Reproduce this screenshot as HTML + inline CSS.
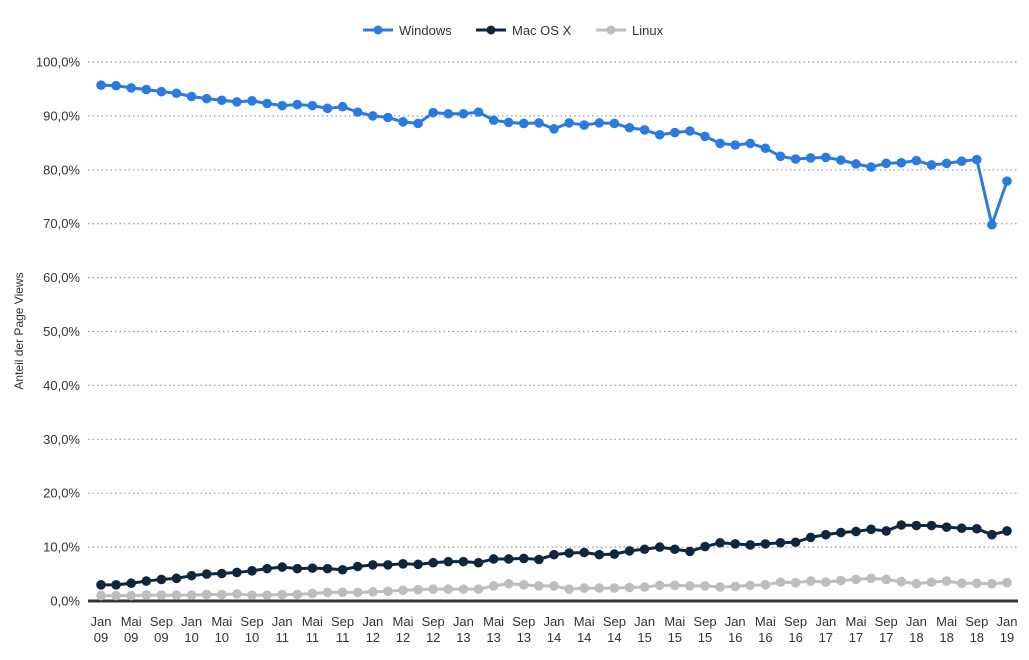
<!DOCTYPE html>
<html><head><meta charset="utf-8"><style>
body{margin:0;background:#fff;font-family:"Liberation Sans",Arial,sans-serif;}
svg text{font-family:"Liberation Sans",Arial,sans-serif;fill:#333;}
</style></head><body>
<svg id="chart" width="1029" height="655" xmlns="http://www.w3.org/2000/svg">
<g id="legend">
 <g><line x1="363" y1="30" x2="393" y2="30" stroke="#2b7ae0" stroke-width="3"/><circle cx="378" cy="30" r="4.5" fill="#2b7ae0"/><text x="399" y="35" font-size="13">Windows</text></g>
 <g><line x1="476" y1="30" x2="506" y2="30" stroke="#10263f" stroke-width="3"/><circle cx="491" cy="30" r="4.5" fill="#10263f"/><text x="512" y="35" font-size="13">Mac OS X</text></g>
 <g><line x1="596" y1="30" x2="626" y2="30" stroke="#bdbdbd" stroke-width="3"/><circle cx="611" cy="30" r="4.5" fill="#bdbdbd"/><text x="632" y="35" font-size="13">Linux</text></g>
</g>
<text transform="translate(23,331) rotate(-90)" text-anchor="middle" font-size="12">Anteil der Page Views</text>
<g id="grid"></g><g id="series"></g><g id="xlabels"></g>
</svg>
<script>
const windows=[95.7,95.6,95.2,94.9,94.5,94.2,93.6,93.2,92.9,92.6,92.8,92.3,91.9,92.1,91.9,91.4,91.7,90.7,90.0,89.7,88.9,88.6,90.6,90.4,90.4,90.7,89.2,88.8,88.6,88.7,87.6,88.7,88.3,88.7,88.6,87.8,87.4,86.5,86.9,87.2,86.2,84.9,84.6,84.9,84.0,82.5,82.0,82.2,82.3,81.8,81.1,80.5,81.2,81.3,81.7,80.9,81.2,81.6,81.9,69.8,77.9];
const mac=[3.0,3.0,3.3,3.7,4.0,4.2,4.7,5.0,5.1,5.3,5.6,6.0,6.3,6.0,6.1,6.0,5.8,6.4,6.7,6.7,6.9,6.8,7.1,7.3,7.3,7.1,7.8,7.8,7.9,7.7,8.6,8.9,9.0,8.6,8.7,9.3,9.6,10.0,9.6,9.2,10.1,10.8,10.6,10.4,10.6,10.8,10.9,11.8,12.3,12.7,12.9,13.3,13.0,14.1,14.0,14.0,13.7,13.5,13.4,12.3,13.0];
const linux=[1.0,1.0,1.0,1.1,1.1,1.1,1.1,1.2,1.2,1.3,1.1,1.1,1.2,1.2,1.4,1.6,1.6,1.6,1.7,1.8,2.0,2.1,2.2,2.2,2.2,2.2,2.8,3.2,3.0,2.8,2.8,2.2,2.4,2.4,2.4,2.5,2.6,2.9,2.9,2.8,2.8,2.6,2.7,2.9,3.0,3.5,3.4,3.7,3.5,3.8,4.0,4.2,4.0,3.6,3.2,3.5,3.7,3.3,3.3,3.2,3.4];
const yTicks=[0,10,20,30,40,50,60,70,80,90,100];
const monthNames=["Jan","Mai","Sep"];
const yearLabels=["09","10","11","12","13","14","15","16","17","18","19"];
const NS="http://www.w3.org/2000/svg";
const x0=101,x1=1007,y0=601,y100=62;
const n=windows.length;
function xs(i){return x0+(x1-x0)*i/(n-1);}
function ys(v){return y0+(y100-y0)*v/100;}
function mk(t,a,p){const e=document.createElementNS(NS,t);for(const k in a)e.setAttribute(k,a[k]);p.appendChild(e);return e;}
const grid=document.getElementById('grid');
yTicks.forEach(v=>{
 if(v>0){const l=mk('line',{x1:88,x2:1018,y1:ys(v),y2:ys(v),stroke:'#999','stroke-width':1.2,'stroke-dasharray':'1.5,3'},grid);
 
 }
 const t=mk('text',{x:80,y:ys(v)+4.5,'text-anchor':'end','font-size':'13'},grid);
 t.textContent=v.toFixed(1).replace('.',',')+'%';
 
 
});
const ax=mk('line',{x1:88,x2:1018,y1:y0,y2:y0,stroke:'#333','stroke-width':3},grid);


const xl=document.getElementById('xlabels');
for(let i=0;i<n;i+=2){
 const m=monthNames[(i/2)%3];const yr=yearLabels[Math.floor(i/6)];
 const t=mk('text',{x:xs(i),y:626,'text-anchor':'middle','font-size':'13'},xl);
 
 
 mk('tspan',{x:xs(i),dy:0},t).textContent=m;
 mk('tspan',{x:xs(i),dy:16},t).textContent=yr;
}
const sg=document.getElementById('series');
[[linux,'#bdbdbd','linux'],[mac,'#10263f','mac'],[windows,'#2b7ae0','windows']].forEach(([d,c,name])=>{
 const g=mk('g',{},sg);
 
 
 const p=mk('polyline',{points:d.map((v,i)=>xs(i)+','+ys(v)).join(' '),fill:'none',stroke:c,'stroke-width':3,'stroke-linejoin':'round'},g);
 
 
 d.forEach((v,i)=>{const ci=mk('circle',{cx:xs(i),cy:ys(v),r:4.8,fill:c},g);
 
 });
});
</script>
</body></html>
